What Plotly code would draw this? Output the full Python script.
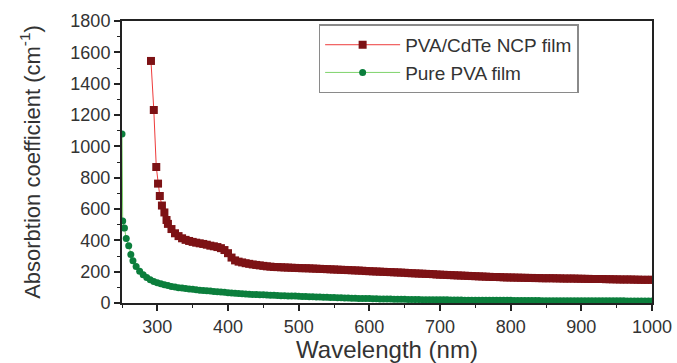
import plotly.graph_objects as go

# PVA/CdTe NCP film: wavelength (nm) and absorption coefficient (cm^-1)
wl_ncp = [291, 295, 298.5, 301, 303.5, 306.5, 310, 313] + list(range(315, 1001, 5))
ab_ncp = [1545, 1232, 868, 762, 683, 622, 578, 530,
          # 315 - 395
          505, 472, 445, 427, 413, 403, 396, 390, 385, 381, 377, 372, 366, 362, 357, 350, 338,
          # 400 - 500
          318, 290, 272, 264, 259, 254, 250, 246, 243, 240, 237, 234, 232, 230, 229, 228, 227,
          226, 225, 224, 223,
          # 505 - 600
          222, 222, 221, 220, 219, 218, 217, 216, 215, 214, 213, 212, 211, 210, 209, 208, 207,
          206, 204, 203,
          # 605 - 700
          202, 201, 200, 199, 198, 197, 196, 195, 194, 193, 191, 190, 189, 188, 187, 186, 185,
          184, 182, 181,
          # 705 - 800
          180, 179, 178, 177, 176, 175, 174, 173, 172, 171, 170, 169, 168, 167, 166, 166, 165,
          164, 163, 163,
          # 805 - 900
          162, 162, 161, 161, 160, 160, 159, 159, 158, 158, 158, 158, 157, 157, 156, 156, 156,
          156, 155, 155,
          # 905 - 1000
          154, 154, 153, 153, 153, 153, 152, 152, 151, 151, 150, 150, 150, 150, 149, 149, 148,
          148, 148, 148]

# Pure PVA film
wl_pva = [250, 251, 253.5, 256, 259.5, 262.5, 265.5] + list(range(270, 1001, 5))
ab_pva = [1078, 524, 478, 411, 365, 310, 269,
          # 270 - 345
          233, 203, 180, 162, 148, 138, 130, 123, 117, 111, 106, 102, 98, 95, 92, 89,
          # 350 - 400
          87, 85, 82, 80, 78, 76, 74, 72, 70, 68, 66,
          # 405 - 500
          64, 62, 61, 59, 58, 56, 55, 54, 53, 52, 51, 50, 49, 48, 47, 46, 45, 45, 44, 43,
          # 505 - 600
          42, 41, 40, 40, 39, 38, 37, 36, 35, 35, 34, 33, 32, 32, 31, 30, 29, 29, 28, 28,
          # 605 - 700
          27, 27, 26, 26, 25, 25, 24, 24, 24, 24, 23, 23, 22, 22, 21, 21, 21, 21, 20, 20,
          # 705 - 800
          20, 20, 19, 19, 19, 19, 18, 18, 18, 18, 18, 18, 17, 17, 17, 17, 17, 17, 17, 17,
          # 805 - 900
          16, 16, 16, 16, 16, 16, 16, 16, 15, 15, 15, 15, 15, 15, 15, 15, 15, 15, 15, 15,
          # 905 - 1000
          14, 14, 14, 14, 14, 14, 14, 14, 14, 14, 14, 14, 13, 13, 13, 13, 13, 13, 13, 13]

x_ticks = [300, 400, 500, 600, 700, 800, 900, 1000]
y_ticks = [0, 200, 400, 600, 800, 1000, 1200, 1400, 1600, 1800]

FONT = "Liberation Sans, Arial, sans-serif"

fig = go.Figure()
fig.add_trace(go.Scatter(
    x=wl_ncp, y=ab_ncp, mode="lines+markers", name="PVA/CdTe NCP film",
    line=dict(color="#ee3b3b", width=1),
    marker=dict(symbol="square", size=8, color="#7d1215"),
))
fig.add_trace(go.Scatter(
    x=wl_pva, y=ab_pva, mode="lines+markers", name="Pure PVA film",
    line=dict(color="#7fd36b", width=1),
    marker=dict(symbol="circle", size=7, color="#0b7e3c"),
))

fig.update_layout(
    width=677, height=363,
    margin=dict(l=122, r=25, t=21, b=60),
    paper_bgcolor="white", plot_bgcolor="white",
    font=dict(family=FONT, color="#333333"),
    showlegend=True,
    legend=dict(
        x=0.371, y=0.988, xanchor="left", yanchor="top",
        bordercolor="#8a8a8a", borderwidth=1.5, bgcolor="white",
        font=dict(size=19, family=FONT, color="#333333"),
        itemwidth=75, tracegroupgap=0,
    ),
)
fig.update_xaxes(
    range=[250, 1000], tickvals=x_ticks, ticktext=[str(v) for v in x_ticks],
    automargin=False,
    showgrid=False, zeroline=False,
    showline=True, linecolor="#222222", linewidth=2, mirror=True,
    ticks="outside", ticklen=6, tickwidth=1.5, tickcolor="#222222",
    minor=dict(ticks="outside", ticklen=3, tickwidth=1.2, tickcolor="#222222", dtick=50, tick0=250),
    tickfont=dict(size=18, family=FONT, color="#333333"),
    title=dict(text="Wavelength (nm)", font=dict(size=24, family=FONT, color="#333333"), standoff=0),
)
fig.update_yaxes(
    range=[0, 1800], tickvals=y_ticks, ticktext=[str(v) for v in y_ticks],
    automargin=False,
    showgrid=False, zeroline=False,
    showline=True, linecolor="#222222", linewidth=2, mirror=True,
    ticks="outside", ticklen=6, tickwidth=1.5, tickcolor="#222222",
    minor=dict(ticks="outside", ticklen=3, tickwidth=1.2, tickcolor="#222222", dtick=100, tick0=0),
    tickfont=dict(size=18, family=FONT, color="#333333"),
    title=dict(text="Absorbtion coefficient (cm<sup>-1</sup>)",
               font=dict(size=22, family=FONT, color="#333333"), standoff=24),
)

fig.write_html("out.html")
